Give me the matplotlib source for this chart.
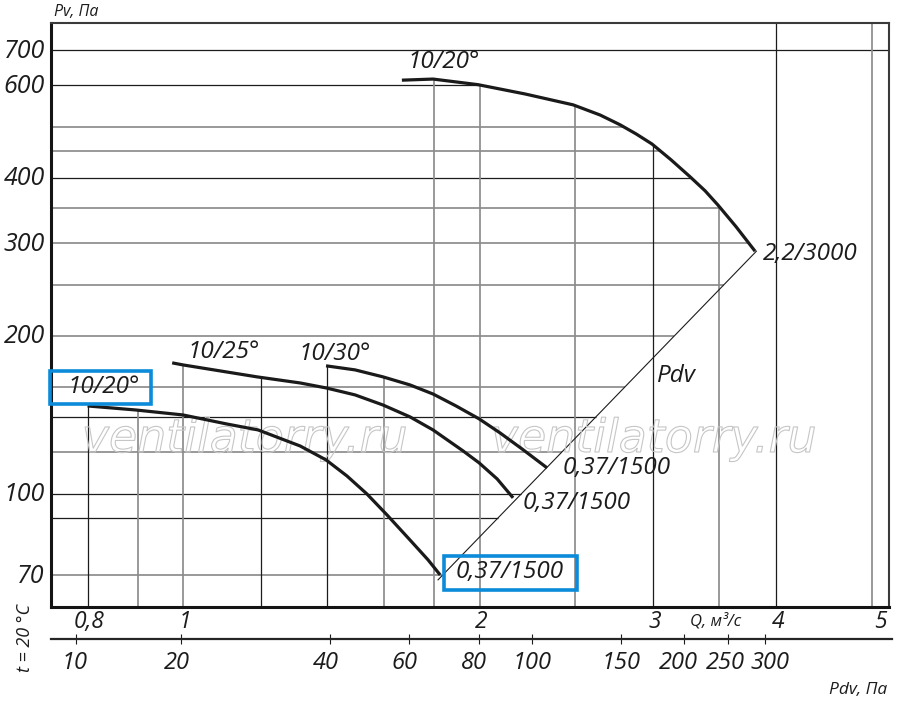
import numpy as np
import matplotlib
matplotlib.use("Agg")
import matplotlib.pyplot as plt
import matplotlib.patheffects as pe
from matplotlib.patches import Rectangle
from matplotlib.transforms import ScaledTranslation, IdentityTransform
from matplotlib.ticker import NullLocator

plt.rcParams['font.family'] = ['Open Sans', 'DejaVu Sans']
plt.rcParams['font.style'] = 'italic'

# ---------------- data ----------------
q_ticks = [0.8, 1, 2, 3, 4, 5]
q_tick_labels = ['0,8', '1', '2', '3', '4', '5']
p_ticks = [70, 100, 200, 300, 400, 600, 700]
p_tick_labels = ['70', '100', '200', '300', '400', '600', '700']
pdv_tick_labels = ['10', '20', '40', '60', '80', '100', '150', '200', '250', '300']
pdv_tick_q = [0.779, 0.995, 1.41, 1.696, 1.998, 2.262, 2.784, 3.226, 3.575, 3.898]

grid_p = [70, 90, 100, 120, 140, 160, 200, 250, 300, 350, 400, 450, 500, 600, 700]
grid_p_dark = [90, 100, 140, 400, 600, 700]
grid_q = [0.8, 0.9, 1.0, 1.2, 1.4, 1.6, 1.8, 2.0, 2.5, 3.0, 3.5, 4.0, 5.0]
grid_q_dark = [0.8, 1.2, 1.4, 3.0, 4.0]

# 10/20° - 2,2/3000
top_q = [1.668, 1.794, 1.993, 2.224, 2.489, 2.651, 2.777, 2.884, 2.993,
         3.129, 3.271, 3.388, 3.492, 3.642, 3.808]
top_p = [614, 617, 602, 578, 551, 527, 505, 485, 464,
         433, 402, 378, 355, 323, 290]
# 10/25° - 0,37/1500
c25_q = [0.975, 1.0, 1.189, 1.315, 1.397, 1.495, 1.596, 1.700, 1.794, 1.924, 1.998, 2.084, 2.163]
c25_p = [177.7, 176.1, 167.1, 162.7, 159.2, 154.4, 147.7, 140.2, 132.4, 120.8, 114.6, 106.8, 98.3]
# 10/30° - 0,37/1500
c30_q = [1.397, 1.495, 1.596, 1.700, 1.794, 1.893, 1.998, 2.098, 2.209, 2.342]
c30_p = [175.4, 172.3, 167.1, 161.3, 155.0, 147.1, 139.0, 130.7, 121.8, 112.1]
# 10/20° - 0,37/1500
c20_q = [0.80, 0.896, 1.0, 1.108, 1.192, 1.315, 1.397, 1.467, 1.537, 1.611, 1.700, 1.773, 1.824]
c20_p = [147.1, 144.5, 141.4, 135.9, 132.4, 123.4, 116.1, 108.2, 100.0, 91.2, 81.7, 74.9, 70.1]
# dynamic pressure line
pdv_q = [1.815, 3.82]
pdv_p = [68.6, 290]

curves = [(top_q, top_p), (c25_q, c25_p), (c30_q, c30_p), (c20_q, c20_p)]

# ---------------- figure ----------------
W, H = 900, 715
fig = plt.figure(figsize=(W / 100, H / 100), dpi=100)
L, R, T, B = 51, 889, 23, 607
ax = fig.add_axes([L / W, 1 - B / H, (R - L) / W, (B - T) / H])
ax.set_xscale('log')
ax.set_yscale('log')
XMIN, XMAX = 0.7345, 5.208
YMIN, YMAX = 60.9, 789
ax.set_xlim(XMIN, XMAX)
ax.set_ylim(YMIN, YMAX)

DARK = '#1c1c1c'
GRAY = '#8c8c8c'


def px(dx, dy=0):
    return ScaledTranslation(dx / 100, dy / 100, fig.dpi_scale_trans)


def interp_log(q, qs, ps):
    return 10 ** np.interp(np.log10(q), np.log10(qs), np.log10(ps))


def vtop(q):
    vals = [interp_log(q, cq, cp) for cq, cp in curves
            if min(cq) - 1e-6 <= q <= max(cq) + 1e-6]
    return max(vals) if vals else YMAX


def hright(v):
    if v > max(top_p):
        return XMAX
    if v >= top_p[-1]:
        qs = np.array(top_q[1:])[::-1]
        ps = np.array(top_p[1:])[::-1]
        return 10 ** np.interp(np.log10(v), np.log10(ps), np.log10(qs))
    return 10 ** np.interp(np.log10(v), np.log10(pdv_p), np.log10(pdv_q))


for v in grid_p:
    dark = v in grid_p_dark
    ax.plot([XMIN, hright(v)], [v, v], color=DARK if dark else GRAY,
            lw=0.9 if dark else 1.25, zorder=1, solid_capstyle='butt')
for q in grid_q:
    dark = q in grid_q_dark
    ax.plot([q, q], [YMIN, vtop(q)], color=DARK if dark else GRAY,
            lw=0.9 if dark else 1.25, zorder=1, solid_capstyle='butt')

# Pdv line
ax.plot(pdv_q, pdv_p, color=DARK, lw=0.8, zorder=2)

# curves
for cq, cp in curves:
    ax.plot(cq, cp, color='#1a1a1a', lw=2.3, zorder=3, solid_capstyle='butt',
            solid_joinstyle='round')

# watermark
for xf in (0.2315, 0.7196):
    ax.text(xf, 0.2654, 'ventilatorry.ru', transform=ax.transAxes,
            family='DejaVu Sans', style='oblique', fontsize=33,
            ha='center', va='baseline', color=(1, 1, 1, 0), zorder=2.5,
            path_effects=[pe.Stroke(linewidth=0.8, foreground='#c6c6c6')])

# ticks
ax.set_xticks(q_ticks)
ax.set_xticklabels(q_tick_labels)
ax.xaxis.set_minor_locator(NullLocator())
ax.set_yticks(p_ticks)
ax.set_yticklabels(p_tick_labels)
ax.yaxis.set_minor_locator(NullLocator())
ax.tick_params(axis='x', length=0, pad=2.5, labelsize=16.5, colors=DARK)
ax.tick_params(axis='y', length=0, pad=4.5, labelsize=18, colors=DARK)
q_label_shift = {'5': 9}
for lab in ax.get_xticklabels():
    lab.set_transform(lab.get_transform() + px(q_label_shift.get(lab.get_text(), 2)))
for lab in ax.get_yticklabels():
    lab.set_transform(lab.get_transform() + px(0, 2))

ax.spines['left'].set_linewidth(2.2)
ax.spines['bottom'].set_linewidth(2.2)
ax.spines['left'].set_color('#141414')
ax.spines['bottom'].set_color('#141414')
ax.spines['top'].set_linewidth(1.5)
ax.spines['top'].set_color('#3a3a3a')
ax.spines['right'].set_linewidth(1.5)
ax.spines['right'].set_color('#3a3a3a')
for s in ax.spines.values():
    s.set_zorder(6)

# secondary Pdv scale
y2 = 639
ax2 = fig.add_axes([L / W, 1 - y2 / H, (R + 3 - L) / W, 0.0001])
ax2.set_xscale('log')
ax2.set_xlim(XMIN, 10 ** (np.log10(XMAX) + np.log10(XMAX / XMIN) * 3 / (R - L)))
ax2.set_yticks([])
for k in ('left', 'right', 'top'):
    ax2.spines[k].set_visible(False)
ax2.spines['bottom'].set_linewidth(1.6)
ax2.spines['bottom'].set_color('#262626')
ax2.set_xticks(pdv_tick_q)
ax2.set_xticklabels(pdv_tick_labels)
ax2.xaxis.set_minor_locator(NullLocator())
ax2.tick_params(axis='x', direction='inout', length=6.5, width=0.8, pad=5.5,
                labelsize=17, colors=DARK)
pdv_label_shift = {'10': -2, '20': -4, '40': -4, '60': -5, '80': -5, '100': 0,
                   '150': 0, '200': -6, '250': -3, '300': 5}
for lab in ax2.get_xticklabels():
    lab.set_transform(lab.get_transform() + px(pdv_label_shift.get(lab.get_text(), 0)))
ax2.patch.set_visible(False)

# texts
tk = dict(color=DARK, fontsize=17.5, ha='center', va='center', zorder=5)
ax.text(1.839, 665, '10/20°', **tk)
ax.text(1.1006, 186.4, '10/25°', **tk)
ax.text(1.427, 184.8, '10/30°', **tk)
t_box1 = ax.text(0.830, 159.9, '10/20°', **tk)
ax.text(4.33, 286.4, '2,2/3000', **tk)
ax.text(3.166, 167.8, 'Pdv', **tk)
ax.text(2.758, 112.1, '0,37/1500', **tk)
ax.text(2.512, 96.1, '0,37/1500', **tk)
t_box2 = ax.text(2.148, 71.0, '0,37/1500', **tk)

fig.text(54 / W, 1 - 12 / H, 'Pv, Па', fontsize=11.5, color=DARK, ha='left', va='center')
fig.text(887 / W, 1 - 690 / H, 'Pdv, Па', fontsize=12.5, color=DARK, ha='right', va='center')
fig.text(716 / W, 1 - 621 / H, 'Q, м³/с', fontsize=12, color=DARK, ha='center', va='center')
fig.text(25 / W, 1 - 638 / H, 't = 20 °C', fontsize=13, color=DARK, ha='center', va='center',
         rotation=90)

# blue highlight boxes around two labels
fig.canvas.draw()
BLUE = '#0b8bd9'
for t, (pl, pr, pb, pt) in ((t_box1, (17, 12, 5, 4)), (t_box2, (12, 13, 6, 4))):
    bb = t.get_window_extent()
    rect = Rectangle((bb.x0 - pl, bb.y0 - pb), bb.width + pl + pr, bb.height + pb + pt,
                     transform=IdentityTransform(), fill=False, edgecolor=BLUE, lw=2.6,
                     zorder=10)
    fig.add_artist(rect)

fig.savefig('out.png', dpi=100)
